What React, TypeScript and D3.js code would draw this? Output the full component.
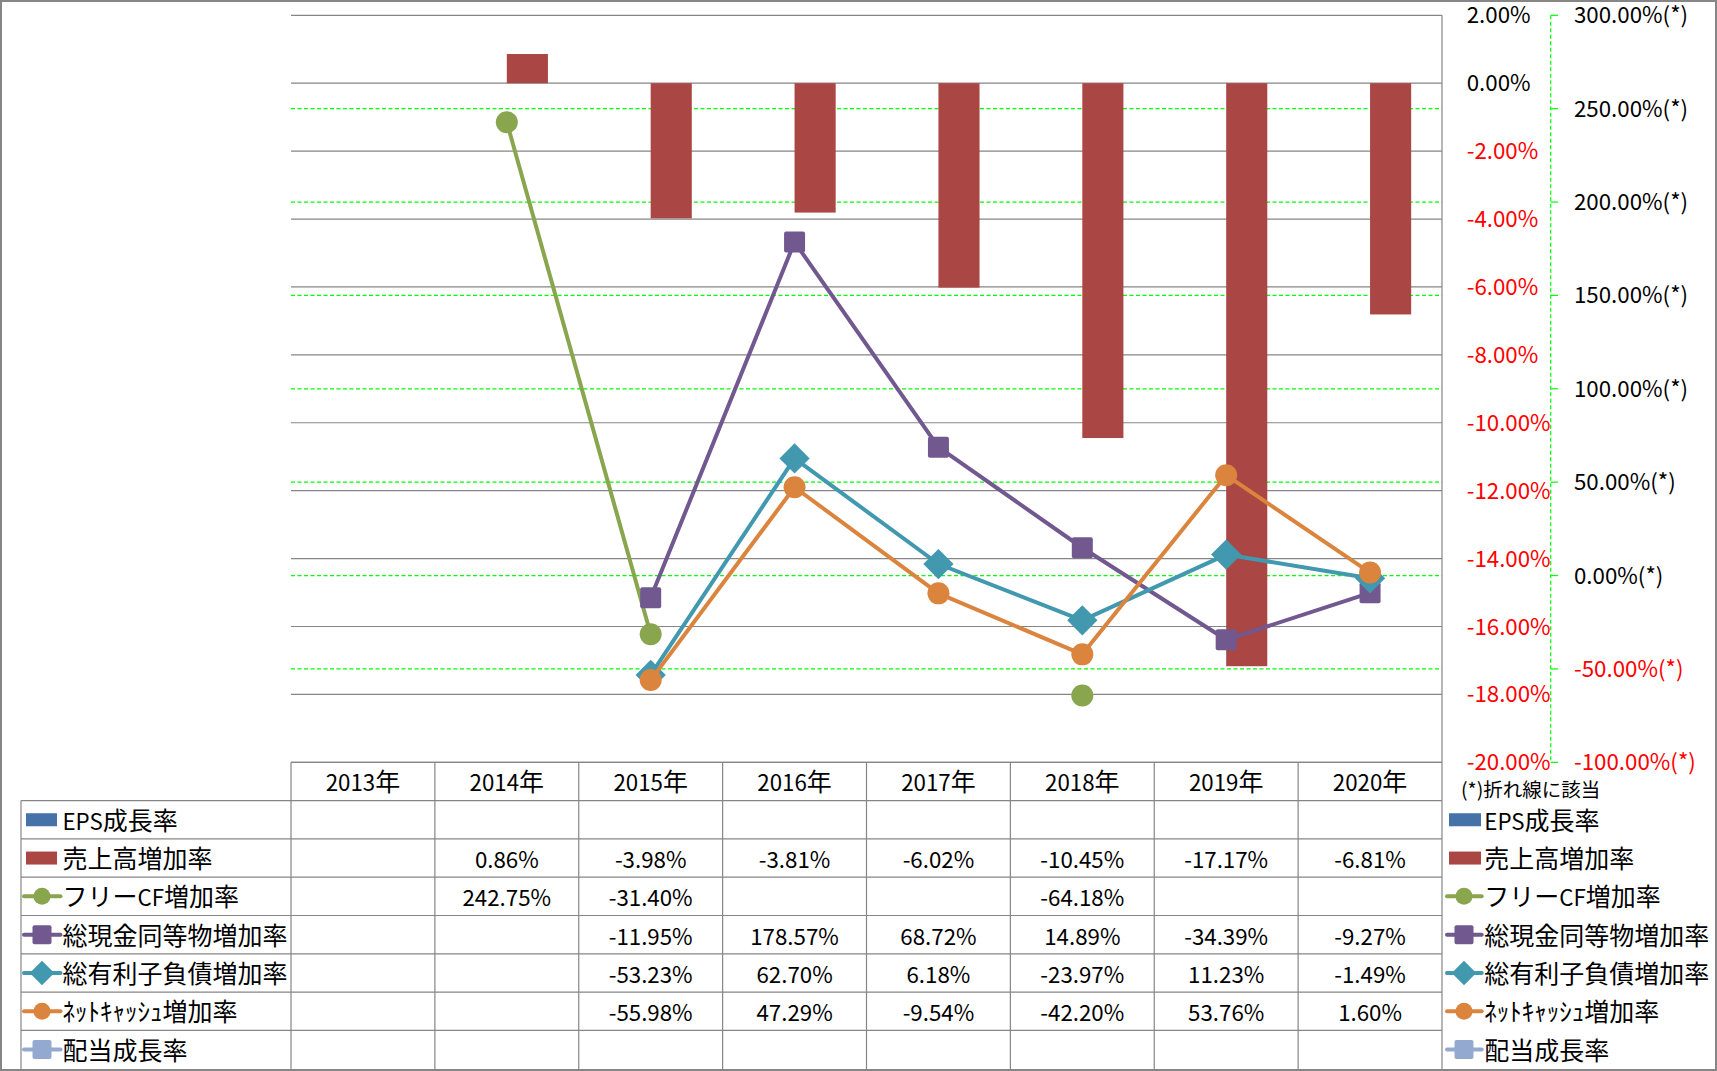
import React from 'react';
import * as d3 from 'd3';

const years = ['2013年', '2014年', '2015年', '2016年', '2017年', '2018年', '2019年', '2020年'];
const epsGrowth: (number | null)[] = [null, null, null, null, null, null, null, null];
const salesGrowth: (number | null)[] = [null, 0.86, -3.98, -3.81, -6.02, -10.45, -17.17, -6.81];
const freeCFGrowth: (number | null)[] = [null, 242.75, -31.4, null, null, -64.18, null, null];
const cashEqGrowth: (number | null)[] = [null, null, -11.95, 178.57, 68.72, 14.89, -34.39, -9.27];
const debtGrowth: (number | null)[] = [null, null, -53.23, 62.7, 6.18, -23.97, 11.23, -1.49];
const netCashGrowth: (number | null)[] = [null, null, -55.98, 47.29, -9.54, -42.2, 53.76, 1.6];
const dividendGrowth: (number | null)[] = [null, null, null, null, null, null, null, null];

const leftTicks = [2, 0, -2, -4, -6, -8, -10, -12, -14, -16, -18, -20];
const rightTicks = [300, 250, 200, 150, 100, 50, 0, -50, -100];

type Series = {
  name: string;
  values: (number | null)[];
  color: string;
  kind: 'bar' | 'line';
  marker?: 'circle' | 'square' | 'diamond';
};

const series: Series[] = [
  { name: 'EPS成長率', values: epsGrowth, color: '#4572A7', kind: 'bar' },
  { name: '売上高増加率', values: salesGrowth, color: '#AA4643', kind: 'bar' },
  { name: 'フリーCF増加率', values: freeCFGrowth, color: '#89A54E', kind: 'line', marker: 'circle' },
  { name: '総現金同等物増加率', values: cashEqGrowth, color: '#71588F', kind: 'line', marker: 'square' },
  { name: '総有利子負債増加率', values: debtGrowth, color: '#4198AF', kind: 'line', marker: 'diamond' },
  { name: 'ﾈｯﾄｷｬｯｼｭ増加率', values: netCashGrowth, color: '#DB843D', kind: 'line', marker: 'circle' },
  { name: '配当成長率', values: dividendGrowth, color: '#93A9CF', kind: 'line', marker: 'square' },
];

const W = 1717;
const H = 1071;
const plotL = 291;
const plotR = 1442;
const plotT = 15.3;
const plotB = 762.3;
const rowH = 38.3;
const tableLeft = 21;
const FONT = "'Noto Sans CJK JP', 'Open Sans', sans-serif";
const GRID = '#868686';
const GREEN = '#00FF00';
const NUM_FS = 22.3;
const JP_FS = 25;
const TABLE_DY = 2;

function MixedText({ x, y, text, anchor, fill }: { x: number; y: number; text: string; anchor?: string; fill?: string }) {
  const runs = text.match(/[\x00-\x7F]+|[^\x00-\x7F]+/g) || [];
  return (
    <text x={x} y={y + 0.36 * NUM_FS} textAnchor={anchor || 'start'} fill={fill || '#000'}>
      {runs.map((r, i) => (
        <tspan key={i} fontSize={/^[\x00-\x7F]+$/.test(r) ? NUM_FS : JP_FS}>
          {r}
        </tspan>
      ))}
    </text>
  );
}

function Marker({ type, x, y, color, size }: { type: string; x: number; y: number; color: string; size: number }) {
  if (type === 'circle') return <circle cx={x} cy={y} r={size / 2} fill={color} />;
  if (type === 'square')
    return <rect x={x - size / 2} y={y - size / 2} width={size} height={size} rx={2} fill={color} />;
  const h = size * 0.72;
  return <path d={`M${x},${y - h}L${x + h},${y}L${x},${y + h}L${x - h},${y}Z`} fill={color} />;
}

export default function App() {
  const x = d3.scaleBand<string>().domain(years).range([plotL, plotR]).paddingInner(0).paddingOuter(0);
  const bw = x.bandwidth();
  const barW = bw / 3.5;
  const yL = d3.scaleLinear().domain([-20, 2]).range([plotB, plotT]);
  const yR = d3.scaleLinear().domain([-100, 300]).range([plotB, plotT]);
  const cx = (i: number) => (x(years[i]) as number) + bw / 2;

  const barSeries = series.filter((s) => s.kind === 'bar');
  const lineSeries = series.filter((s) => s.kind === 'line');

  const lineGen = d3
    .line<number | null>()
    .defined((d) => d != null)
    .x((_, i) => cx(i))
    .y((d) => yR(d as number));

  const rowTop = (r: number) => plotB + rowH * (r + 1);

  return (
    <svg
      width={W}
      height={H}
      style={{ position: 'absolute', left: 0, top: 0, background: '#fff' }}
      fontFamily={FONT}
    >
      <rect x={0} y={0} width={W} height={H} fill="#fff" />
      <rect x={1} y={1} width={W - 2} height={H - 2} fill="none" stroke={GRID} strokeWidth={2} />

      {leftTicks.map((t) => (
        <line key={'g' + t} x1={plotL} x2={plotR} y1={yL(t)} y2={yL(t)} stroke={GRID} strokeWidth={1.2} />
      ))}
      {rightTicks
        .filter((t) => t !== 300 && t !== -100)
        .map((t) => (
          <line
            key={'r' + t}
            x1={plotL}
            x2={plotR}
            y1={yR(t)}
            y2={yR(t)}
            stroke={GREEN}
            strokeWidth={1.2}
            strokeDasharray="4,2.5"
          />
        ))}

      {barSeries.map((s, si) =>
        s.values.map((v, i) => {
          if (v == null) return null;
          const bx = cx(i) - barW + si * barW;
          const y0 = yL(0);
          const y1 = yL(v);
          return (
            <rect
              key={s.name + i}
              x={bx}
              y={Math.min(y0, y1)}
              width={barW}
              height={Math.abs(y1 - y0)}
              fill={s.color}
            />
          );
        })
      )}

      {lineSeries.map((s) => (
        <g key={s.name}>
          <path
            d={lineGen(s.values) || ''}
            fill="none"
            stroke={s.color}
            strokeWidth={4}
            strokeLinejoin="round"
            strokeLinecap="round"
          />
          {s.values.map((v, i) =>
            v == null ? null : (
              <Marker
                key={i}
                type={s.marker as string}
                x={cx(i)}
                y={yR(v)}
                color={s.color}
                size={s.marker === 'circle' ? 22 : 21}
              />
            )
          )}
        </g>
      ))}

      <line x1={plotR} x2={plotR} y1={plotT} y2={H - 1} stroke={GRID} strokeWidth={1.2} />

      {leftTicks.map((t) => (
        <text key={'lt' + t} x={1466.7} y={yL(t) + 0.36 * NUM_FS} fontSize={NUM_FS} fill={t < 0 ? '#FF0000' : '#000'}>
          {t.toFixed(2) + '%'}
        </text>
      ))}

      <line x1={1550.7} x2={1550.7} y1={plotT} y2={plotB} stroke={GREEN} strokeWidth={1.2} strokeDasharray="4,2.5" />
      {rightTicks.map((t) => (
        <line key={'rt' + t} x1={1550.7} x2={1558} y1={yR(t)} y2={yR(t)} stroke={GREEN} strokeWidth={1.2} />
      ))}
      {rightTicks.map((t) => (
        <text key={'rl' + t} x={1574} y={yR(t) + 0.36 * NUM_FS} fontSize={NUM_FS} fill={t < 0 ? '#FF0000' : '#000'}>
          {t.toFixed(2) + '%(*)'}
        </text>
      ))}
      <text x={1461} y={797} fontSize={19.5} fill="#000">
        (*)折れ線に該当
      </text>

      <line x1={plotL} x2={plotR} y1={plotB} y2={plotB} stroke={GRID} strokeWidth={1.2} />
      {series.map((_, r) => (
        <line key={'hl' + r} x1={tableLeft} x2={plotR} y1={rowTop(r)} y2={rowTop(r)} stroke={GRID} strokeWidth={1.2} />
      ))}
      <line x1={tableLeft} x2={tableLeft} y1={rowTop(0)} y2={H - 1} stroke={GRID} strokeWidth={1.2} />
      {years.map((yr) => (
        <line
          key={'vl' + yr}
          x1={x(yr) as number}
          x2={x(yr) as number}
          y1={plotB}
          y2={H - 1}
          stroke={GRID}
          strokeWidth={1.2}
        />
      ))}
      {years.map((yr, i) => (
        <MixedText key={'yh' + yr} x={cx(i)} y={plotB + rowH / 2 + TABLE_DY} text={yr} anchor="middle" />
      ))}
      {series.map((s, r) => {
        const yc = rowTop(r) + rowH / 2;
        return (
          <g key={'row' + s.name}>
            {s.kind === 'bar' ? (
              <rect x={26} y={yc - 6.5} width={31} height={13} fill={s.color} />
            ) : (
              <g>
                <line x1={24} x2={60.5} y1={yc} y2={yc} stroke={s.color} strokeWidth={4} strokeLinecap="round" />
                <Marker type={s.marker as string} x={42} y={yc} color={s.color} size={s.marker === 'square' ? 19 : 17} />
              </g>
            )}
            <MixedText x={62.4} y={yc + TABLE_DY} text={s.name} />
            {s.values.map((v, i) =>
              v == null ? null : (
                <text key={i} x={cx(i)} y={yc + TABLE_DY + 0.36 * NUM_FS} textAnchor="middle" fontSize={NUM_FS}>
                  {v.toFixed(2) + '%'}
                </text>
              )
            )}
          </g>
        );
      })}

      {series.map((s, r) => {
        const yc = rowTop(r) + rowH / 2;
        return (
          <g key={'leg' + s.name}>
            {s.kind === 'bar' ? (
              <rect x={1449} y={yc - 6.5} width={32} height={13} fill={s.color} />
            ) : (
              <g>
                <line x1={1447} x2={1481.7} y1={yc} y2={yc} stroke={s.color} strokeWidth={4} strokeLinecap="round" />
                <Marker type={s.marker as string} x={1464} y={yc} color={s.color} size={s.marker === 'square' ? 19 : 17} />
              </g>
            )}
            <MixedText x={1484.3} y={yc + TABLE_DY} text={s.name} />
          </g>
        );
      })}
    </svg>
  );
}
